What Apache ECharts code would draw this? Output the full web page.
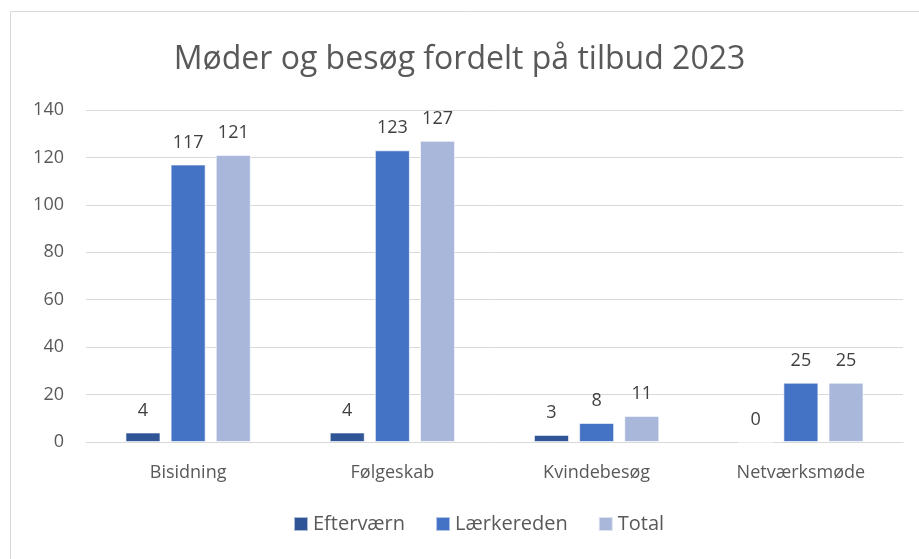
<!DOCTYPE html>
<html lang="da">
  <head>
    <meta charset="UTF-8" />
    <title>Møder og besøg fordelt på tilbud 2023</title>
    <script src="https://cdn.jsdelivr.net/npm/echarts@6/dist/echarts.min.js"></script>
    <style>
      html, body { margin: 0; padding: 0; background: #fff; }
      #chart { width: 919px; height: 559px; }
    </style>
  </head>
  <body>
    <div id="chart"></div>
    <script>
      var categories = ['Bisidning', 'Følgeskab', 'Kvindebesøg', 'Netværksmøde'];
      var efterværn = [4, 4, 3, 0];
      var lærkereden = [117, 123, 8, 25];
      var total = [121, 127, 11, 25];

      var fontName = 'Open Sans';
      var chart = echarts.init(document.getElementById('chart'));

      function barSeries(name, color, data) {
        return {
          name: name,
          type: 'bar',
          data: data,
          barWidth: 35,
          barGap: '29%',
          itemStyle: { color: color, borderColor: 'rgba(255,255,255,0.6)', borderWidth: 1 },
          label: {
            show: true,
            position: 'top',
            distance: 13,
            color: '#404040',
            fontSize: 18,
            fontFamily: fontName
          }
        };
      }

      chart.setOption({
        animation: false,
        title: {
          text: 'Møder og besøg fordelt på tilbud 2023',
          left: 'center',
          top: 39,
          textStyle: { color: '#595959', fontSize: 32, fontWeight: 'normal', fontFamily: fontName }
        },
        graphic: [
          {
            type: 'rect',
            shape: { x: 10.5, y: 11.5, width: 920, height: 560 },
            style: { fill: 'none', stroke: '#d9d9d9', lineWidth: 1 },
            silent: true
          }
        ],
        legend: {
          bottom: 20,
          left: 288,
          itemWidth: 14,
          itemHeight: 14,
          itemGap: 30,
          icon: 'rect',
          textStyle: { color: '#595959', fontSize: 20, fontFamily: fontName }
        },
        grid: { left: 86, right: 16, top: 110, bottom: 117 },
        xAxis: {
          type: 'category',
          data: categories,
          axisLine: { lineStyle: { color: '#d9d9d9' } },
          axisTick: { show: false },
          axisLabel: { color: '#595959', fontSize: 18, margin: 22, fontFamily: fontName }
        },
        yAxis: {
          type: 'value',
          min: 0,
          max: 140,
          interval: 20,
          axisLabel: { color: '#595959', fontSize: 18, margin: 22, fontFamily: fontName },
          splitLine: { lineStyle: { color: '#d9d9d9' } }
        },
        series: [
          barSeries('Efterværn', '#2F5597', efterværn),
          barSeries('Lærkereden', '#4472C4', lærkereden),
          barSeries('Total', '#A9B7DB', total)
        ]
      });
    </script>
  </body>
</html>
